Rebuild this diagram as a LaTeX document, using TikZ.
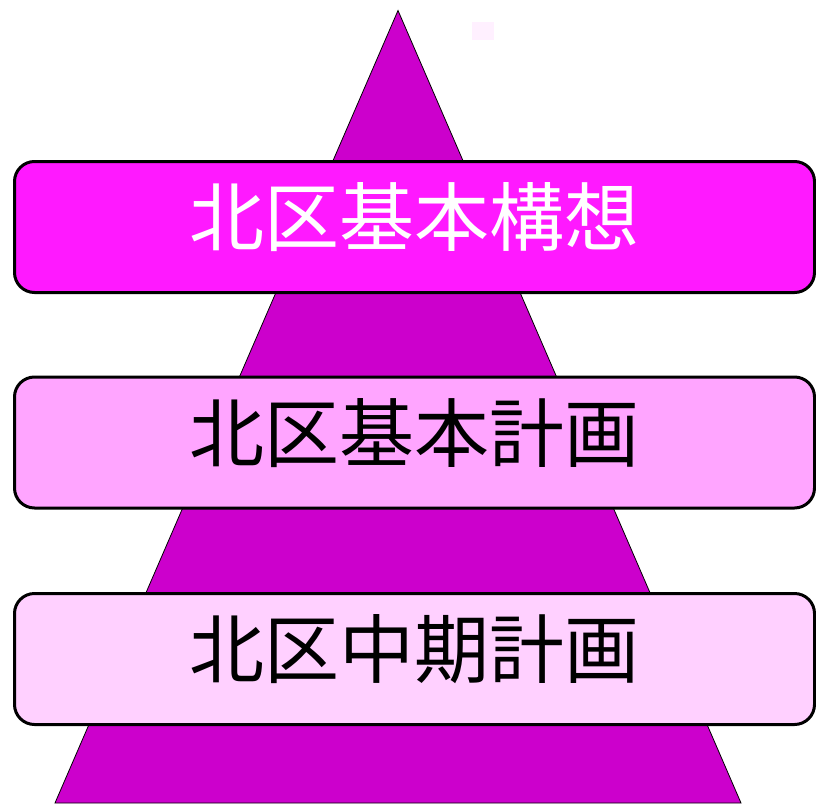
\documentclass[tikz,border=0pt]{standalone}
\usepackage{fontspec}
\newfontfamily\cjk{Noto Sans CJK JP}
\definecolor{tri}{RGB}{204,0,204}
\definecolor{boxA}{RGB}{255,25,255}
\definecolor{boxB}{RGB}{255,165,255}
\definecolor{boxC}{RGB}{255,208,255}
\definecolor{sq}{RGB}{255,240,255}
\tikzset{
  level/.style={draw=black, line width=3pt, rounded corners=20pt, minimum width=800pt, minimum height=131pt, inner sep=0pt, font=\cjk\fontsize{75}{80}\selectfont}
}
\begin{document}
\begin{tikzpicture}[x=1pt,y=-1pt]
\useasboundingbox (0,0) rectangle (816,803);
\fill[white] (0,0) rectangle (816,803);
\fill[sq] (472,22) rectangle (494,40);
\coordinate (apex) at (398,10.5);
\coordinate (bl) at (55,803);
\coordinate (br) at (741,803);
\filldraw[fill=tri, draw=black, line width=0.8pt] (bl) -- (apex) -- (br) -- cycle;
\node[level, fill=boxA, text=white] (b1) at (414.5,227) {\raisebox{26pt}{北区基本構想}};
\node[level, fill=boxB, text=black] (b2) at (414.5,442.5) {\raisebox{26pt}{北区基本計画}};
\node[level, fill=boxC, text=black] (b3) at (414.5,659) {\raisebox{26pt}{北区中期計画}};
\end{tikzpicture}
\end{document}
